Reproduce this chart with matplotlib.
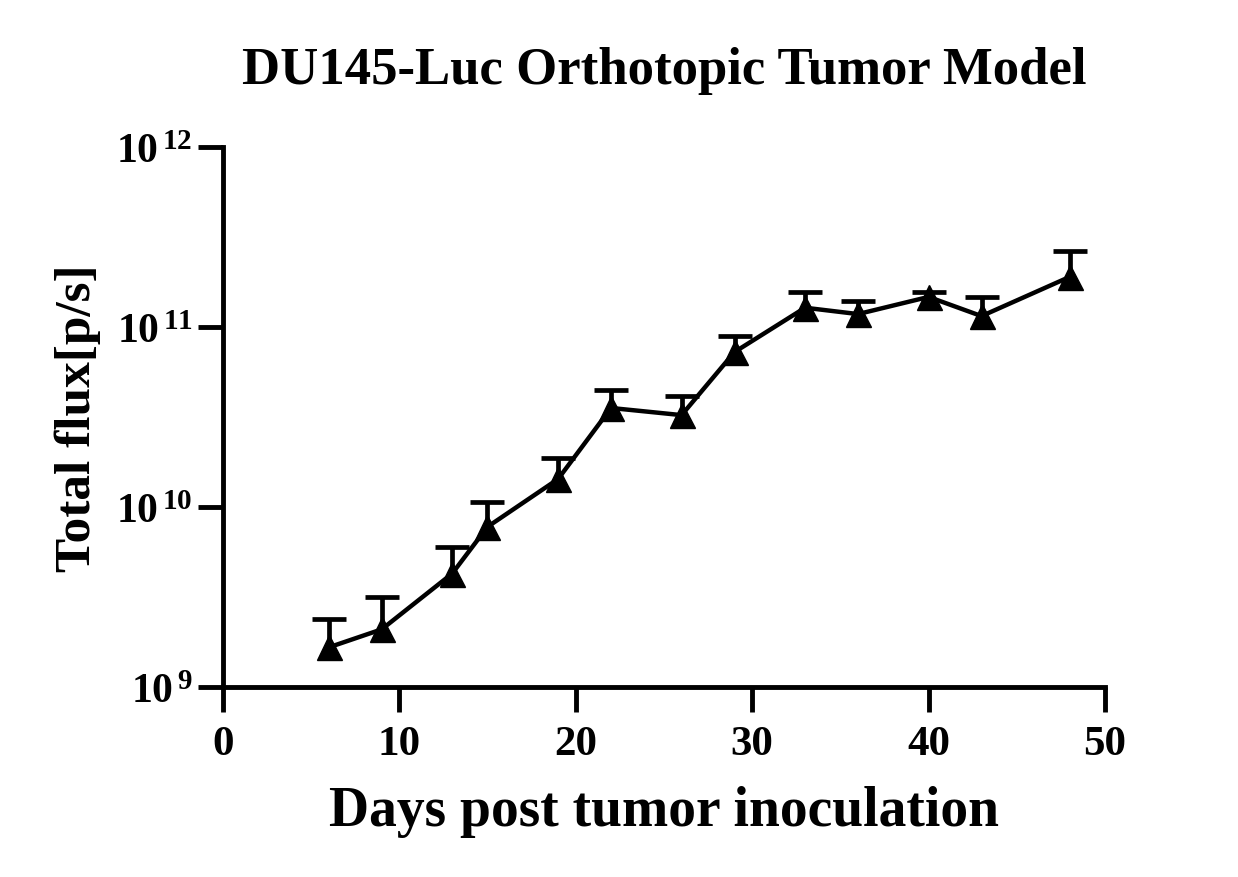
import numpy as np
import matplotlib
matplotlib.use("Agg")
import matplotlib.pyplot as plt
from matplotlib.ticker import NullLocator, FixedLocator

# Fonts: bold Times-like everywhere
plt.rcParams['font.family'] = 'Liberation Serif'
plt.rcParams['font.weight'] = 'bold'
plt.rcParams['mathtext.fontset'] = 'custom'
plt.rcParams['mathtext.rm'] = 'Liberation Serif:bold'
plt.rcParams['mathtext.bf'] = 'Liberation Serif:bold'
plt.rcParams['mathtext.it'] = 'Liberation Serif:bold'
plt.rcParams['mathtext.default'] = 'rm'

# data (mean total flux and upper SEM, p/s)
days = [6, 9, 13, 15, 19, 22, 26, 29, 33, 36, 40, 43, 48]
flux = [1.66e9, 2.09e9, 4.27e9, 7.76e9, 1.43e10, 3.55e10, 3.24e10,
        7.26e10, 1.28e11, 1.18e11, 1.47e11, 1.15e11, 1.90e11]
sem = [0.74e9, 1.07e9, 1.73e9, 2.9e9, 4.4e9, 9.2e9, 9.0e9,
       1.64e10, 2.8e10, 2.1e10, 1.0e10, 3.2e10, 7.4e10]

xticks = [0, 10, 20, 30, 40, 50]
yticks = [1e9, 1e10, 1e11, 1e12]
ytick_labels = [r'$10^{\,9}$', r'$10^{\,10}$', r'$10^{\,11}$', r'$10^{\,12}$']

fig = plt.figure(figsize=(12.38, 8.78), dpi=100)
ax = fig.add_axes([0.180, 0.2164, 0.7126, 0.615])

line, caps, bars = ax.errorbar(days, flux, yerr=[np.zeros(len(sem)), sem],
                               color='black', lw=3.2, marker='^', ms=18,
                               capsize=12, capthick=3.4, elinewidth=3.4,
                               zorder=3)
# only the upper cap is drawn in the original
caps[0].set_visible(False)

ax.set_yscale('log')
ax.set_ylim(1e9, 1e12)
ax.set_xlim(0, 50)
ax.yaxis.set_major_locator(FixedLocator(yticks))
ax.yaxis.set_minor_locator(NullLocator())
ax.set_yticklabels(ytick_labels)
ax.set_xticks(xticks)

for s in ['top', 'right']:
    ax.spines[s].set_visible(False)
for s in ['left', 'bottom']:
    ax.spines[s].set_linewidth(3.5)

ax.tick_params(axis='both', which='major', length=18, width=3.5,
               direction='out', labelsize=31)
ax.tick_params(axis='x', pad=9)
ax.tick_params(axis='y', pad=4, labelsize=30)

ax.set_title('DU145-Luc Orthotopic Tumor Model', fontsize=38,
             fontweight='bold', pad=46)
ax.set_xlabel('Days post tumor inoculation', fontsize=40,
              fontweight='bold', labelpad=16)
ax.set_ylabel('Total flux[p/s]', fontsize=37, fontweight='bold',
              labelpad=11)

fig.savefig('out.png', dpi=100)
